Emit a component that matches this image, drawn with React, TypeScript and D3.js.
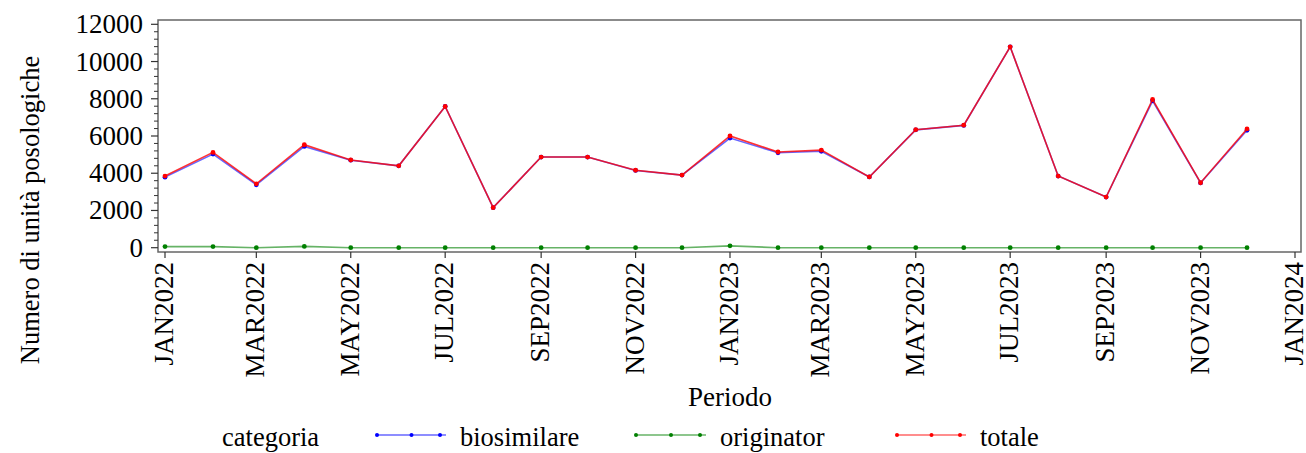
import React from "react";
import * as d3 from "d3";

const months = [
  "2022-01", "2022-02", "2022-03", "2022-04", "2022-05", "2022-06",
  "2022-07", "2022-08", "2022-09", "2022-10", "2022-11", "2022-12",
  "2023-01", "2023-02", "2023-03", "2023-04", "2023-05", "2023-06",
  "2023-07", "2023-08", "2023-09", "2023-10", "2023-11", "2023-12",
];
const biosimilare = [
  3790, 5030, 3380, 5440, 4700, 4400, 7590, 2150, 4870, 4870, 4150, 3900,
  5890, 5100, 5180, 3800, 6330, 6570, 10790, 3850, 2720, 7890, 3480, 6310,
];
const originator = [
  60, 60, 0, 70, 0, 0, 0, 0, 0, 0, 0, 0,
  100, 0, 0, 0, 0, 0, 0, 0, 0, 0, 0, 0,
];
const totale = [
  3850, 5120, 3430, 5530, 4710, 4400, 7590, 2150, 4870, 4870, 4160, 3900,
  6000, 5140, 5240, 3800, 6340, 6580, 10790, 3850, 2720, 7960, 3490, 6380,
];
const seriesNames = ["biosimilare", "originator", "totale"];
const seriesColors = ["#0000ff", "#008000", "#ff0000"];
const yTicks = [0, 2000, 4000, 6000, 8000, 10000, 12000];

const W = 1306;
const H = 453;
const FONT = "'Liberation Serif', 'Times New Roman', serif";

export default function App() {
  const dates = months.map((m) => new Date(m + "-01T00:00:00Z"));
  const x = d3
    .scaleUtc()
    .domain([new Date("2022-01-01T00:00:00Z"), new Date("2024-01-01T00:00:00Z")])
    .range([165, 1295]);
  const y = d3.scaleLinear().domain([0, 12000]).range([247.7, 24.3]);
  const frame = { left: 158, right: 1301, top: 20, bottom: 252 };

  const xTicks = x.ticks(d3.utcMonth.every(2) as any);
  const fmt = (d: Date) => d3.utcFormat("%b%Y")(d).toUpperCase();
  const minorY = d3.range(0, 12001, 400).filter((v) => v % 2000 !== 0);

  const allSeries = [biosimilare, originator, totale];
  const opac = [0.6, 0.6, 0.8];
  const line = d3
    .line<[Date, number]>()
    .x((d) => x(d[0]))
    .y((d) => y(d[1]));

  const legendItems = [
    { name: seriesNames[0], color: seriesColors[0], x0: 377, x1: 446, tx: 460 },
    { name: seriesNames[1], color: seriesColors[1], x0: 636, x1: 706, tx: 720 },
    { name: seriesNames[2], color: seriesColors[2], x0: 897, x1: 966, tx: 980 },
  ];

  return (
    <svg
      width={W}
      height={H}
      style={{ position: "absolute", left: 0, top: 0, background: "#fff" }}
      fontFamily={FONT}
    >
      <rect x={0} y={0} width={W} height={H} fill="#fff" />
      {allSeries.map((vals, si) => {
        const pts: [Date, number][] = dates.map((d, i) => [d, vals[i]]);
        return (
          <g key={si}>
            <path
              d={line(pts) || ""}
              fill="none"
              stroke={seriesColors[si]}
              strokeOpacity={opac[si]}
              strokeWidth={1.6}
            />
            {pts.map((p, i) => (
              <circle key={i} cx={x(p[0])} cy={y(p[1])} r={2.4} fill={seriesColors[si]} />
            ))}
          </g>
        );
      })}
      <rect
        x={frame.left}
        y={frame.top}
        width={frame.right - frame.left}
        height={frame.bottom - frame.top}
        fill="none"
        stroke="#666"
        strokeWidth={1.5}
      />
      {yTicks.map((v) => (
        <g key={v}>
          <line x1={frame.left - 7} x2={frame.left} y1={y(v)} y2={y(v)} stroke="#333" strokeWidth={1.2} />
          <text
            x={143}
            y={y(v)}
            textAnchor="end"
            dominantBaseline="central"
            fontSize={27}
            fill="#000"
          >
            {v}
          </text>
        </g>
      ))}
      {minorY.map((v) => (
        <line key={v} x1={frame.left - 4} x2={frame.left} y1={y(v)} y2={y(v)} stroke="#333" strokeWidth={1} />
      ))}
      <text
        transform={`translate(30, 210) rotate(-90)`}
        textAnchor="middle"
        dominantBaseline="central"
        fontSize={26.5}
      >
        Numero di unità posologiche
      </text>
      {xTicks.map((d) => (
        <g key={d.getTime()}>
          <line x1={x(d)} x2={x(d)} y1={frame.bottom} y2={frame.bottom + 6} stroke="#333" strokeWidth={1.2} />
          <text
            transform={`translate(${x(d) - 1}, ${frame.bottom + 10}) rotate(-90)`}
            textAnchor="end"
            dominantBaseline="central"
            fontSize={27}
          >
            {fmt(d)}
          </text>
        </g>
      ))}
      <text x={730} y={406} textAnchor="middle" fontSize={27}>
        Periodo
      </text>
      <text x={222} y={446} fontSize={26.5}>
        categoria
      </text>
      {legendItems.map((it) => (
        <g key={it.name}>
          <line x1={it.x0} x2={it.x1} y1={435} y2={435} stroke={it.color} strokeOpacity={0.6} strokeWidth={1.6} />
          {[it.x0, (it.x0 + it.x1) / 2, it.x1 - 6].map((cx, i) => (
            <circle key={i} cx={cx} cy={435} r={2} fill={it.color} />
          ))}
          <text x={it.tx} y={446} fontSize={26.5}>
            {it.name}
          </text>
        </g>
      ))}
    </svg>
  );
}
